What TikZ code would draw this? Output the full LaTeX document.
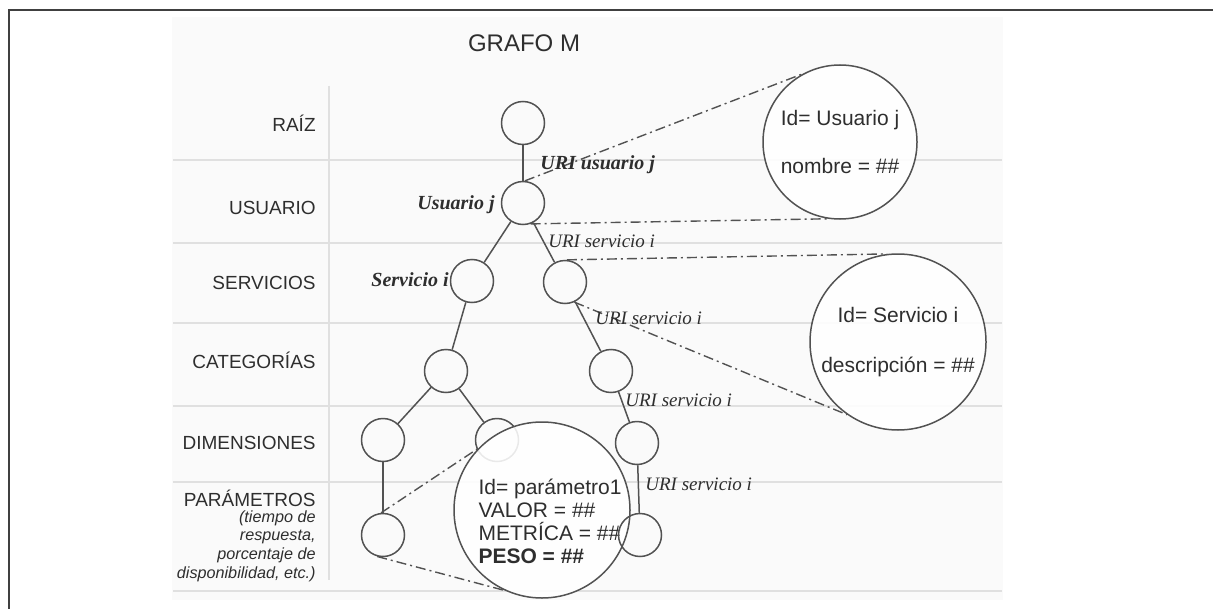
\documentclass[tikz,border=0pt]{standalone}
\usepackage[svgnames]{xcolor}
\usepackage{fontspec}
\setmainfont{Liberation Serif}
\setsansfont{Liberation Sans}
\usepackage{tikz}
\colorlet{frameLine}{black!75}
\colorlet{panelFill}{black!2}
\colorlet{gridLine}{black!12}
\colorlet{treeLine}{black!68}
\colorlet{labelText}{black!82}

\begin{document}
\begin{tikzpicture}[
  x=0.5pt, y=-0.5pt,
  font=\sffamily,
  every node/.style={
    text=labelText,
  },
  grid line/.style={
    line width=1pt,
    draw=gridLine
  },
  level label/.style={
    anchor=east,
    inner sep=0pt,
    font=\sffamily\fontsize{9.5}{11}\selectfont
  },
  tree node/.style={
    circle,
    draw=treeLine,
    line width=0.75pt,
    minimum size=21.5pt,
    inner sep=0pt
  },
  tree edge/.style={
    draw=treeLine,
    line width=0.75pt
  },
  zoom circle/.style={
    circle,
    draw=treeLine,
    line width=0.75pt,
    fill=white,
    fill opacity=0.88,
    text opacity=1,
    inner sep=0pt,
    align=center,
    font=\sffamily\fontsize{10.5}{12.6}\selectfont
  },
  zoom line/.style={
    draw=treeLine,
    line width=0.7pt,
    dash pattern=on 5pt off 2pt on 1pt off 2pt
  },
  uri label/.style={
    anchor=west,
    inner sep=0pt,
    font=\rmfamily\itshape\fontsize{9.5}{11}\selectfont
  },
  name label/.style={
    anchor=east,
    inner sep=0pt,
    font=\rmfamily\itshape\bfseries\fontsize{10}{12}\selectfont
  }
]
\useasboundingbox (0,0) rectangle (1213,609);
\draw[frameLine, line width=1pt] (9,609) -- (9,10) -- (1213,10);
\fill[panelFill] (172,17) rectangle (1003,600);
\foreach \y in {160,243,323,406,482,591}
  \draw[grid line] (173,\y) -- (1002,\y);
\draw[grid line] (329,86) -- (329,580);

\node[font=\sffamily\fontsize{12}{14}\selectfont] (title) at (524,43) {GRAFO M};

\node[level label] (raiz) at (316,123) {RAÍZ};
\node[level label] (usuarioLvl) at (316,208) {USUARIO};
\node[level label] (serviciosLvl) at (316,283) {SERVICIOS};
\node[level label] (categoriasLvl) at (316,360) {CATEGORÍAS};
\node[level label] (dimensionesLvl) at (316,443) {DIMENSIONES};
\node[level label] (parametrosLvl) at (316,498) {PARÁMETROS};
\node[anchor=north east, inner sep=0pt, align=right,
  font=\sffamily\itshape\fontsize{8.1}{9.4}\selectfont]
  (parametrosNote) at (316,510)
  {(tiempo de\\respuesta,\\porcentaje de\\disponibilidad, etc.)};

\node[tree node] (root) at (523,123) {};
\node[tree node] (usuario) at (523,203) {};
\node[tree node] (servL) at (472,281) {};
\node[tree node] (servR) at (565,282) {};
\node[tree node] (catL) at (446,371) {};
\node[tree node] (catR) at (611,371) {};
\node[tree node] (dimL) at (383,440) {};
\node[tree node] (dimM) at (497,440) {};
\node[tree node] (dimR) at (637,443) {};
\node[tree node] (paramL) at (383,535) {};

\draw[tree edge] (root) -- (usuario);
\draw[tree edge] (usuario) -- (servL);
\draw[tree edge] (usuario) -- (servR);
\draw[tree edge] (servL) -- (catL);
\draw[tree edge] (servR) -- (catR);
\draw[tree edge] (catL) -- (dimL);
\draw[tree edge] (catL) -- (dimM);
\draw[tree edge] (catR) -- (dimR);
\draw[tree edge] (dimL) -- (paramL);

\node[zoom circle, minimum size=77pt] (zoomU) at (840,142)
  {Id= Usuario j\\[11.5pt]nombre = \#\#};
\node[zoom circle, minimum size=88pt] (zoomS) at (898,342)
  {Id= Servicio i\\[12pt]descripción = \#\#};
\node[zoom circle, minimum size=88pt] (zoomP) at (542,510) {};
\node[anchor=center, align=left, inner sep=0pt,
  font=\sffamily\fontsize{10.5}{11.5}\selectfont]
  (paramText) at (550,521)
  {Id= parámetro1\\VALOR = \#\#\\METRÍCA = \#\#\\\textbf{PESO = \#\#}};

\node[tree node] (paramR) at (640,535) {};
\draw[tree edge] (dimR) -- (paramR);

\draw[zoom line] (usuario.85) -- (zoomU.119);
\draw[zoom line] (usuario.290) -- (zoomU.261);
\draw[zoom line] (servR.85) -- (zoomS.97);
\draw[zoom line] (servR.295) -- (zoomS.235);
\draw[zoom line] (paramL.95) -- (zoomP.136);
\draw[zoom line] (paramL.255) -- (zoomP.245);

\node[uri label, font=\rmfamily\itshape\bfseries\fontsize{10}{12}\selectfont]
  (uriUsuario) at (540,165) {URI usuario j};
\node[name label] (usuarioName) at (495,205) {Usuario j};
\node[name label] (servicioName) at (449,280) {Servicio i};
\node[uri label] (uriServ1) at (548,241) {URI servicio i};
\node[uri label] (uriServ2) at (595,318) {URI servicio i};
\node[uri label] (uriServ3) at (625,400) {URI servicio i};
\node[uri label] (uriServ4) at (645,484) {URI servicio i};
\end{tikzpicture}
\end{document}
